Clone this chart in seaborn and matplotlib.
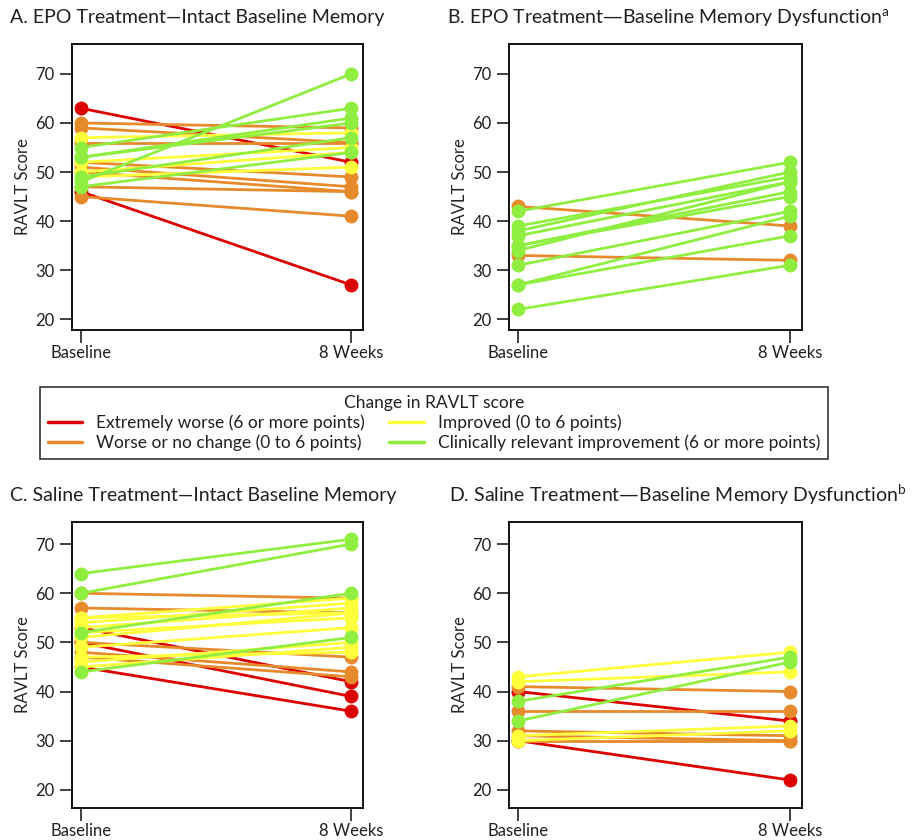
import numpy as np
import pandas as pd
import matplotlib
matplotlib.use("Agg")
import matplotlib.pyplot as plt
from matplotlib.lines import Line2D
import seaborn as sns

sns.set_style("ticks")
plt.rcParams['font.family'] = ['Lato', 'DejaVu Sans']
plt.rcParams['text.color'] = '#231f20'
plt.rcParams['xtick.color'] = '#231f20'
plt.rcParams['ytick.color'] = '#231f20'

# RAVLT scores (baseline -> 8 weeks), one entry per patient
a_base = [63, 46, 60, 59, 56, 52, 51, 50, 47, 45, 57, 49, 52, 50, 48, 55, 53, 47, 53, 49]
a_week8 = [52, 27, 59, 56, 56, 49, 47, 46, 46, 41, 58, 51, 55, 54, 70, 63, 61, 54, 60, 57]

b_base = [43, 33, 42, 39, 38, 37, 35, 34, 35, 31, 27, 27, 22]
b_week8 = [39, 32, 52, 49, 50, 48, 46, 48, 45, 42, 41, 37, 31]

c_base = [53, 50, 45, 60, 57, 50, 48, 47, 55, 54, 53, 51, 52, 49, 46, 45, 47, 55, 64, 60, 52, 44]
c_week8 = [42, 39, 36, 59, 56, 47, 44, 43, 59, 58, 57, 56, 55, 53, 50, 49, 48, 56, 71, 70, 60, 51]

d_base = [40, 30, 41, 36, 32, 31, 30, 43, 42, 31, 30, 38, 34]
d_week8 = [34, 22, 40, 36, 31, 30, 30, 48, 44, 33, 32, 47, 46]

time_labels = ['Baseline', '8 Weeks']
cat_labels = ['Extremely worse (6 or more points)',
              'Worse or no change (0 to 6 points)',
              'Improved (0 to 6 points)',
              'Clinically relevant improvement (6 or more points)']
cat_colors = ['#dc0000', '#e68a2b', '#ffff3c', '#90ee40']
palette = dict(zip(cat_labels, cat_colors))

titles = ['A. EPO Treatment\u2014Intact Baseline Memory',
          'B. EPO Treatment\u2014Baseline Memory Dysfunction$^\\mathregular{a}$',
          'C. Saline Treatment\u2014Intact Baseline Memory',
          'D. Saline Treatment\u2014Baseline Memory Dysfunction$^\\mathregular{b}$']


def category(change):
    if change <= -6:
        return cat_labels[0]
    if change <= 0:
        return cat_labels[1]
    if change < 6:
        return cat_labels[2]
    return cat_labels[3]


def long_df(base, week8):
    rows = []
    for i, (b, w) in enumerate(zip(base, week8)):
        cat = category(w - b)
        rows.append((i, 0, b, cat))
        rows.append((i, 1, w, cat))
    return pd.DataFrame(rows, columns=['id', 'time', 'score', 'change'])


W, H = 916, 840
fig = plt.figure(figsize=(W / 100, H / 100), dpi=100)

# axes boxes in pixels: left, top, right, bottom
boxes = [(72, 44, 363, 330), (509, 44, 802, 330),
         (72, 522, 363, 808), (509, 522, 802, 808)]
ylims = [(17.8, 76.1), (17.8, 76.1), (16.3, 74.5), (16.3, 74.5)]
data = [(a_base, a_week8), (b_base, b_week8), (c_base, c_week8), (d_base, d_week8)]
title_pos = [(10, 18), (447, 18), (10, 495), (449, 495)]

for k in range(4):
    l, t, r, b = boxes[k]
    ax = fig.add_axes([l / W, 1 - b / H, (r - l) / W, (b - t) / H])
    df = long_df(*data[k])
    sns.lineplot(data=df, x='time', y='score', units='id', estimator=None,
                 hue='change', palette=palette, marker='o', markersize=10,
                 markeredgewidth=0, linewidth=2, legend=False, ax=ax)
    ax.set_xlim(-0.0333, 1.0444)
    ax.set_ylim(*ylims[k])
    ax.set_xticks([0, 1])
    ax.set_xticklabels(time_labels)
    ax.set_yticks([20, 30, 40, 50, 60, 70])
    ax.tick_params(axis='both', labelsize=12, length=9, width=1.2, direction='out')
    ax.tick_params(axis='x', pad=2)
    ax.set_xlabel('')
    ax.set_ylabel('RAVLT Score', fontsize=12, labelpad=3)
    for s in ax.spines.values():
        s.set_visible(True)
        s.set_linewidth(1.3)
        s.set_color('black')
    tx, ty = title_pos[k]
    fig.text(tx / W, 1 - ty / H, titles[k], fontsize=14, ha='left', va='center')

handles = [Line2D([0], [0], color=c, lw=2.5) for c in cat_colors]
leg = fig.legend(handles, cat_labels, title='Change in RAVLT score', ncol=2,
                 loc='center', bbox_to_anchor=(434 / W, 1 - 423 / H),
                 fontsize=12.5, title_fontsize=12.5, frameon=True, fancybox=False,
                 edgecolor='black', handlelength=2.0, columnspacing=1.4,
                 labelspacing=0.2, borderpad=0.45, handletextpad=0.8)
leg.get_frame().set_linewidth(1.2)

fig.savefig('out.png', dpi=100)
